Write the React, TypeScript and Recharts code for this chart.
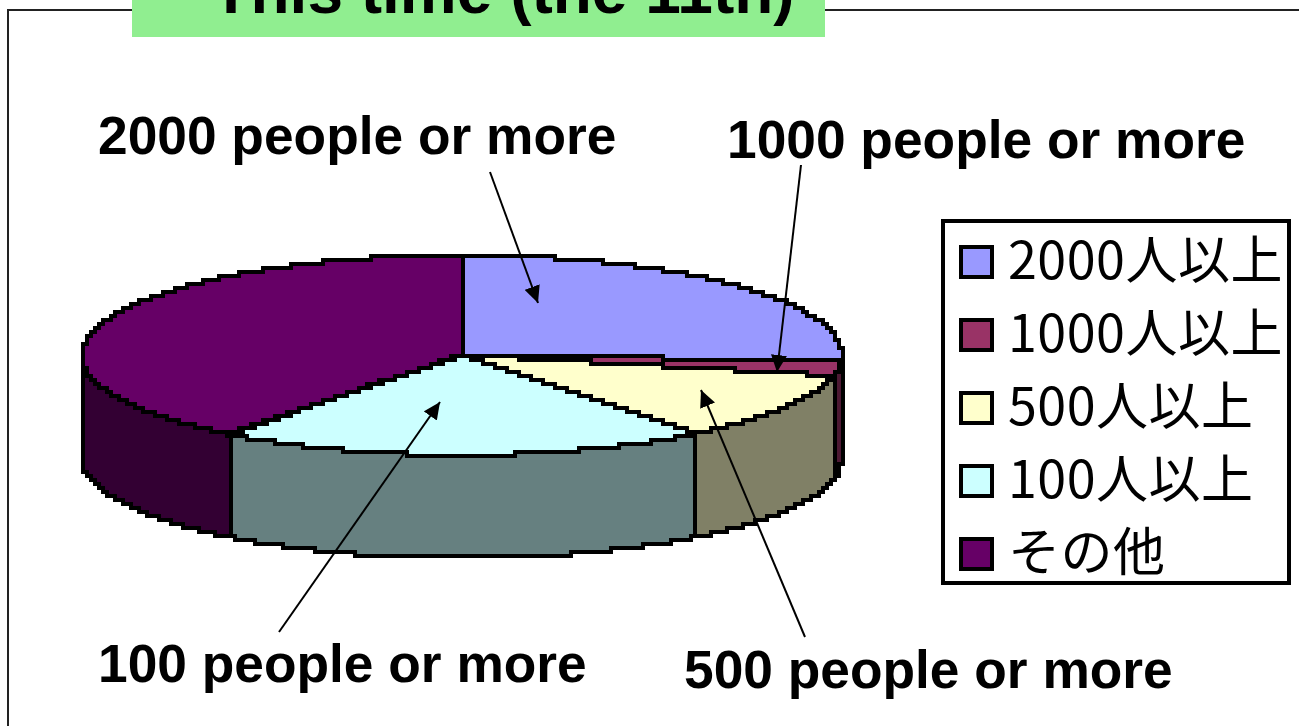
import { PieChart, Pie, Legend } from 'recharts'

const categories = ['2000人以上', '1000人以上', '500人以上', '100人以上', 'その他']
const shares = [25.9, 2.4, 11.1, 21.1, 39.5]
const topColors = ['#9999FF', '#993366', '#FFFFCC', '#CCFFFF', '#660066']
const sideColors = ['#4D4D80', '#4D1933', '#808066', '#668080', '#330033']

const chartTitle = 'This time (the 11th)'
const calloutLabels = ['2000 people or more', '1000 people or more', '500 people or more', '100 people or more']

const tableData = categories.map((name, i) => ({
  name,
  value: shares[i],
  fill: topColors[i],
  side: sideColors[i],
}))

const TILT = 100 / 380
const DEPTH = 103
const GRID = 4

const snap = (v: number) => Math.round(v / GRID) * GRID

// walk a list of points on the coarse grid, the old bitmap look
function stairs(points: number[][]) {
  let d = ''
  let last: number[] | null = null
  points.forEach(([x, y]) => {
    const sx = snap(x) - 1
    const sy = snap(y)
    if (!last) d += `M${sx},${sy}`
    else if (last[0] !== sx || last[1] !== sy) d += `L${sx},${last[1]}L${sx},${sy}`
    last = [sx, sy]
  })
  return d.replace(/^M/, '')
}

// squashed sector plus its outer wall, angles come from the Pie
function TiltedSlice(props: any) {
  const { cx, cy, outerRadius, startAngle, endAngle, fill, side } = props
  const rx = outerRadius
  const ry = outerRadius * TILT
  const rim = (a: number, dy = 0) => [
    cx + rx * Math.cos((a * Math.PI) / 180),
    cy - ry * Math.sin((a * Math.PI) / 180) + dy,
  ]
  const arc = (from: number, to: number, dy = 0) => {
    const n = Math.max(2, Math.ceil(Math.abs(from - to) * 3))
    return Array.from({ length: n + 1 }, (_, i) => rim(from + ((to - from) * i) / n, dy))
  }
  const spoke = (a: number, out: boolean) => {
    const [x, y] = rim(a)
    const pts = Array.from({ length: 121 }, (_, i) => [cx + ((x - cx) * i) / 120, cy + ((y - cy) * i) / 120])
    return out ? pts : pts.reverse()
  }

  const wallStart = Math.min(startAngle, 0)
  const wallEnd = Math.max(endAngle, -180)
  const hasWall = wallStart > wallEnd

  const top = [...spoke(startAngle, true), ...arc(startAngle, endAngle), ...spoke(endAngle, false)]

  return (
    <g shapeRendering="crispEdges">
      {hasWall && (
        <path
          d={`M${stairs([...arc(wallStart, wallEnd), ...arc(wallEnd, wallStart, DEPTH)])}Z`}
          fill={side}
          stroke="#000"
          strokeWidth={4}
        />
      )}
      <path d={`M${stairs(top)}Z`} fill={fill} stroke="#000" strokeWidth={4} />
    </g>
  )
}

function LegendBox({ payload }: any) {
  return (
    <div
      style={{
        width: 350,
        height: 366,
        boxSizing: 'border-box',
        border: '4px solid #000',
        background: '#fff',
        paddingLeft: 14,
        paddingTop: 2,
      }}
    >
      {(payload || []).map((entry: any) => (
        <div key={entry.value} style={{ display: 'flex', alignItems: 'center', height: 73 }}>
          <span
            style={{
              width: 35,
              height: 34,
              boxSizing: 'border-box',
              border: '4px solid #000',
              background: entry.color,
              marginRight: 14,
            }}
          />
          <span
            style={{
              fontFamily: '"Noto Sans CJK JP"',
              fontWeight: 400,
              fontSize: 52,
              letterSpacing: 0.5,
              lineHeight: '60px',
              color: '#000',
              whiteSpace: 'nowrap',
              position: 'relative',
              top: -5,
            }}
          >
            {entry.value}
          </span>
        </div>
      ))}
    </div>
  )
}

const labelStyle = {
  fontFamily: '"Liberation Sans", Arial, sans-serif',
  fontWeight: 700,
  fontSize: 53.3,
  fill: '#000',
}

export default function App() {
  return (
    <div style={{ position: 'absolute', left: 0, top: 0, width: 1299, height: 726, background: '#fff', overflow: 'hidden' }}>
      <PieChart width={1299} height={726} margin={{ top: 0, right: 0, bottom: 0, left: 0 }}>
        <path d="M1299,10 L8,10 L8,726" fill="none" stroke="#222" strokeWidth={2} />
        <rect x={132} y={0} width={693} height={37} fill="#90EE90" />
        <text x={503} y={13} textAnchor="middle" style={{ ...labelStyle, fontSize: 64 }}>
          {chartTitle}
        </text>
        <Pie
          data={tableData}
          dataKey="value"
          nameKey="name"
          cx={463}
          cy={355}
          innerRadius={0}
          outerRadius={380}
          startAngle={90}
          endAngle={-270}
          isAnimationActive={false}
          legendType="square"
          shape={TiltedSlice}
        />
        <text x={98} y={154} style={labelStyle}>{calloutLabels[0]}</text>
        <text x={727} y={158} style={labelStyle}>{calloutLabels[1]}</text>
        <text x={684} y={688} style={labelStyle}>{calloutLabels[2]}</text>
        <text x={98} y={682} style={labelStyle}>{calloutLabels[3]}</text>
        <Legend
          layout="vertical"
          itemSorter={null}
          content={<LegendBox />}
          wrapperStyle={{ position: 'absolute', left: 941, top: 219, width: 350, height: 366 }}
        />
      </PieChart>
      {/* leader arrows sit above the pie layer */}
      <svg width={1299} height={726} style={{ position: 'absolute', left: 0, top: 0, pointerEvents: 'none' }}>
        <defs>
          <marker id="head" markerUnits="userSpaceOnUse" markerWidth={18} markerHeight={16} refX={17} refY={8} orient="auto">
            <path d="M0,0 L17,8 L0,16 Z" fill="#000" />
          </marker>
        </defs>
        <line x1={490} y1={172} x2={538} y2={303} stroke="#000" strokeWidth={2} markerEnd="url(#head)" />
        <line x1={801} y1={165} x2={777} y2={372} stroke="#000" strokeWidth={2} markerEnd="url(#head)" />
        <line x1={805} y1={637} x2={701} y2={390} stroke="#000" strokeWidth={2} markerEnd="url(#head)" />
        <line x1={279} y1={632} x2={440} y2={402} stroke="#000" strokeWidth={2} markerEnd="url(#head)" />
      </svg>
    </div>
  )
}
